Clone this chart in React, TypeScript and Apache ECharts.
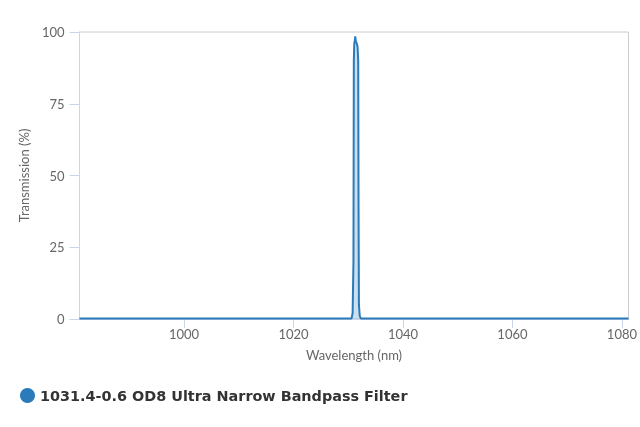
import React, { useEffect, useRef } from "react";
import * as echarts from "echarts";

const seriesName = "1031.4-0.6 OD8 Ultra Narrow Bandpass Filter";
const wavelengths = [
  980.9, 1000, 1020, 1030.6, 1030.8, 1030.95, 1031.02, 1031.1, 1031.2, 1031.28,
  1031.36, 1031.45, 1031.55, 1031.7, 1031.82, 1031.88, 1031.95, 1032.1, 1032.3,
  1050, 1081.2,
];
const transmission = [
  0.2, 0.2, 0.2, 0.2, 2, 20, 90, 96, 97, 98.5,
  97, 96.5, 96, 95, 90, 40, 5, 1, 0.2,
  0.2, 0.2,
];
const xTicks = [1000, 1020, 1040, 1060, 1080];
const xMin = 980.9;
const xMax = 1081.2;

export default function App() {
  const ref = useRef<HTMLDivElement>(null);
  useEffect(() => {
    if (!ref.current) return;
    const chart = echarts.init(ref.current, undefined, { renderer: "svg" });
    const labelFont = { fontFamily: "Lato", fontSize: 13, color: "#666666" };
    chart.setOption({
      animation: false,
      grid: {
        left: 79.5,
        right: 10.5,
        top: 32,
        bottom: 108,
        show: true,
        borderColor: "#cccccc",
        borderWidth: 1,
      },
      legend: {
        show: true,
        left: 20,
        top: 388,
        padding: 0,
        icon: "circle",
        itemWidth: 15,
        itemHeight: 15,
        itemGap: 5,
        textStyle: {
          fontFamily: "DejaVu Sans",
          fontWeight: "bold",
          fontSize: 14.4,
          color: "#333333",
        },
        data: [seriesName],
      },
      xAxis: {
        type: "value",
        min: xMin,
        max: xMax,
        name: "Wavelength (nm)",
        nameLocation: "middle",
        nameGap: 29,
        nameTextStyle: { ...labelFont },
        axisLine: { show: true, lineStyle: { color: "#ccd6eb" } },
        axisTick: {
          show: true,
          length: 9,
          lineStyle: { color: "#ccd6eb" },
          customValues: xTicks,
        },
        axisLabel: {
          ...labelFont,
          margin: 8,
          customValues: xTicks,
          formatter: (v: number) => String(v),
        },
        splitLine: { show: false },
      },
      yAxis: {
        type: "value",
        min: 0,
        max: 100,
        interval: 25,
        name: "Transmission (%)",
        nameLocation: "middle",
        nameGap: 48,
        nameTextStyle: { ...labelFont },
        axisLine: { show: true, lineStyle: { color: "#ccd6eb" } },
        axisTick: { show: true, length: 10, lineStyle: { color: "#ccd6eb" } },
        axisLabel: { ...labelFont, margin: 15 },
        splitLine: { show: false },
      },
      series: [
        {
          name: seriesName,
          type: "line",
          data: wavelengths.map((w, i) => [w, transmission[i]]),
          showSymbol: false,
          symbol: "circle",
          color: "#2b7bba",
          lineStyle: { width: 2, color: "#2b7bba" },
          areaStyle: { color: "rgba(43,123,186,0.35)" },
        },
      ],
    });
    return () => chart.dispose();
  }, []);
  return (
    <div
      ref={ref}
      style={{ position: "fixed", left: 0, top: 0, width: 640, height: 427 }}
    />
  );
}
